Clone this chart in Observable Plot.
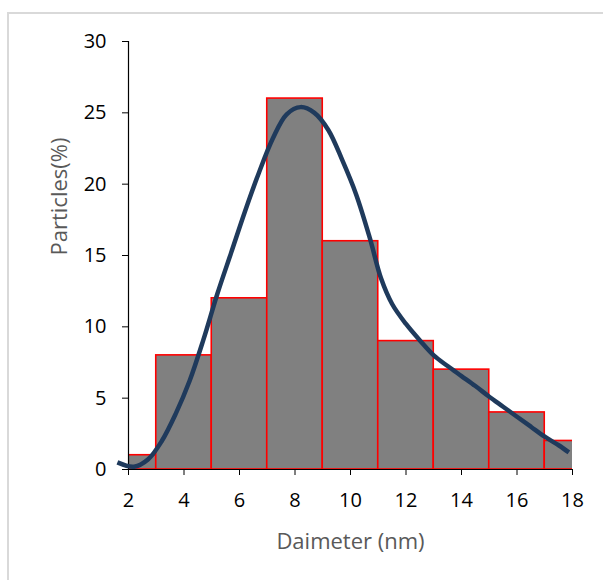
<!DOCTYPE html>
<html>
<head>
<meta charset="utf-8">
<script src="https://cdn.jsdelivr.net/npm/d3@7"></script>
<script src="https://cdn.jsdelivr.net/npm/@observablehq/plot@0.6"></script>
<style>
  html, body { margin: 0; padding: 0; background: #fff; width: 603px; height: 580px; overflow: hidden; }
  #chart { position: relative; width: 603px; height: 580px; }
  #border { position: absolute; left: 7px; top: 12px; width: 800px; height: 800px;
            border: 2px solid #d9d9d9; box-sizing: border-box; }
  #chart svg { position: absolute; left: 0; top: 0; }
</style>
</head>
<body>
<div id="chart"><div id="border"></div></div>
<script>
// Histogram bins: centre diameter (nm) and share of particles (%)
const binCenters = [2, 4, 6, 8, 10, 12, 14, 16, 18];
const particlePct = [1, 8, 12, 26, 16, 9, 7, 4, 2];

// Fitted size-distribution curve
const fitDiameter = [1.6, 2.2, 2.7, 3.2, 3.7, 4.2, 4.7, 5.2, 5.7, 6.2, 6.7, 7.2, 7.7, 8.2, 8.7, 9.2, 9.7,
                     10.2, 10.7, 11.1, 11.5, 12.0, 12.5, 13.0, 13.5, 14.0, 14.5, 15.0, 15.5, 16.0, 16.5,
                     17.0, 17.5, 17.87];
const fitPct = [0.5, 0.2, 0.7, 2.0, 3.9, 6.2, 9.1, 12.3, 15.2, 18.1, 20.8, 23.2, 24.9, 25.4, 25.0, 23.8, 21.7,
                19.3, 16.2, 13.4, 11.6, 10.2, 9.05, 8.0, 7.25, 6.55, 5.85, 5.1, 4.4, 3.7, 3.0,
                2.3, 1.7, 1.2];

// Axis ticks and titles
const xTicks = [2, 4, 6, 8, 10, 12, 14, 16, 18];
const yTicks = [0, 5, 10, 15, 20, 25, 30];
const xTitle = "Daimeter (nm)";
const yTitle = "Particles(%)";

const binWidth = 2;

const bins = binCenters.map((c, i) => ({ c, v: particlePct[i] }));
const fit = fitDiameter.map((d, i) => ({ d, v: fitPct[i] }));

const chart = Plot.plot({
  width: 603,
  height: 580,
  marginLeft: 128,
  marginRight: 31,
  marginTop: 41,
  marginBottom: 111,
  x: { domain: [2, 18] },
  y: { domain: [0, 30] },
  style: { fontFamily: "'Open Sans', sans-serif", fontSize: "20px", color: "#000", background: "transparent", overflow: "visible" },
  marks: [
    Plot.rectY(bins, {
      x1: d => d.c - binWidth / 2,
      x2: d => d.c + binWidth / 2,
      y: "v",
      fill: "#808080",
      stroke: "#ff0000",
      strokeWidth: 1.6,
      inset: 0,
      clip: true
    }),
    Plot.ruleY([0], { stroke: "#000", strokeWidth: 1 }),
    Plot.ruleX([2], { y1: 0, y2: 30, stroke: "#000", strokeWidth: 1.2 }),
    Plot.axisX(xTicks, { tickSize: 6, tickPadding: 17, stroke: "#000", fill: "#000", fontSize: 20, label: null }),
    Plot.axisY(yTicks, { tickSize: 6, tickPadding: 16, stroke: "#000", fill: "#000", fontSize: 20, label: null }),
    Plot.line(fit, {
      x: "d",
      y: "v",
      curve: "catmull-rom",
      stroke: "#1f3a5c",
      strokeWidth: 4.5,
      strokeLinecap: "butt"
    }),
    Plot.text([xTitle], { frameAnchor: "bottom", dy: 72, fill: "#595959", fontSize: 22, lineAnchor: "middle" }),
    Plot.text([yTitle], { frameAnchor: "left", dx: -69, rotate: -90, fill: "#595959", fontSize: 22, lineAnchor: "middle" })
  ]
});

document.getElementById("chart").appendChild(chart);
</script>
</body>
</html>
